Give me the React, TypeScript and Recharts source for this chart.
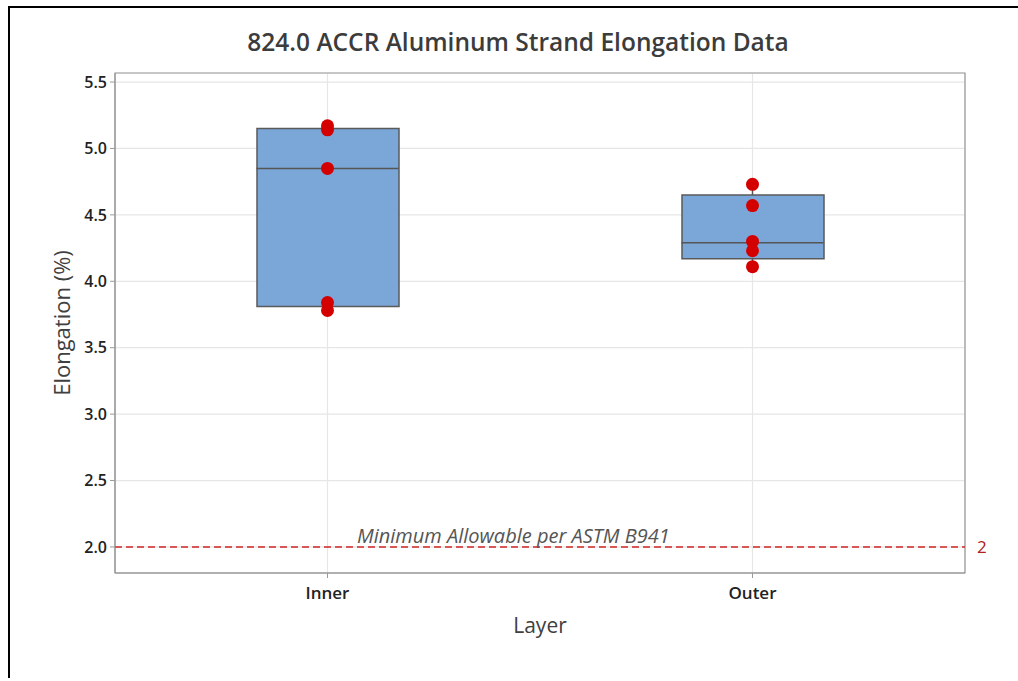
import {
  Bar,
  CartesianGrid,
  ComposedChart,
  ErrorBar,
  ReferenceArea,
  ReferenceLine,
  Scatter,
  XAxis,
  YAxis,
} from "recharts";

// Box-plot summary per layer
const layers = ["Inner", "Outer"];
const q1 = [3.81, 4.17];
const median = [4.85, 4.29];
const q3 = [5.15, 4.65];
const whiskerLow = [3.78, 4.11];
const whiskerHigh = [5.17, 4.73];

// individual strand measurements (red dots)
const innerValues = [5.17, 5.14, 4.85, 3.84, 3.78];
const outerValues = [4.73, 4.57, 4.3, 4.23, 4.11];

const yTicks = [2.0, 2.5, 3.0, 3.5, 4.0, 4.5, 5.0, 5.5];
const minAllowable = 2;

const FONT = "'Open Sans', 'Noto Sans', sans-serif";
const BOX_W = 142;

const boxData = layers.map((layer, i) => ({
  layer,
  box: [q1[i], q3[i]],
  median: median[i],
}));

// whiskers split in two so they never cross the box
const upperWhisker = layers.map((layer, i) => ({
  layer,
  value: q3[i],
  err: [0, whiskerHigh[i] - q3[i]],
}));
const lowerWhisker = layers.map((layer, i) => ({
  layer,
  value: q1[i],
  err: [q1[i] - whiskerLow[i], 0],
}));

const pointData = [
  ...innerValues.map((value) => ({ layer: "Inner", value })),
  ...outerValues.map((value) => ({ layer: "Outer", value })),
];

const MedianLine = (props: any) => {
  const { cx, cy } = props;
  return (
    <line
      x1={cx - BOX_W / 2}
      x2={cx + BOX_W / 2}
      y1={cy}
      y2={cy}
      stroke="#555"
      strokeWidth={1.5}
    />
  );
};

const NoShape = () => <g />;

const Dot = (props: any) => (
  <circle cx={props.cx} cy={props.cy} r={6.5} fill="#d40000" />
);

const MinLabel = (props: any) => {
  const vb = props.viewBox || {};
  return (
    <text
      x={vb.x + 242}
      y={vb.y - 4}
      fill="#555"
      fontStyle="italic"
      fontSize={20}
      fontFamily={FONT}
    >
      Minimum Allowable per ASTM B941
    </text>
  );
};

export default function App() {
  return (
    <div
      style={{
        position: "absolute",
        top: 6,
        left: 8,
        width: 1010,
        height: 670,
        borderTop: "2px solid #000",
        borderLeft: "2px solid #000",
        background: "#fff",
        fontFamily: FONT,
      }}
    >
      <div
        style={{
          position: "absolute",
          left: 4,
          top: 17,
          width: 1008,
          textAlign: "center",
          fontSize: 24.5,
          fontWeight: 600,
          color: "#3c3c3c",
        }}
      >
        824.0 ACCR Aluminum Strand Elongation Data
      </div>
      <ComposedChart
        width={1008}
        height={668}
        data={boxData}
        margin={{ top: 65, right: 53, bottom: 43, left: 0 }}
      >
        <CartesianGrid stroke="#e6e6e6" strokeWidth={1.2} />
        <XAxis
          dataKey="layer"
          type="category"
          allowDuplicatedCategory={false}
          height={60}
          stroke="#999"
          tickSize={5}
          tick={{ fill: "#222", fontSize: 17, fontWeight: 600, fontFamily: FONT }}
          tickMargin={9}
          label={{
            value: "Layer",
            position: "insideBottom",
            offset: 0,
            fill: "#404040",
            fontSize: 21,
            fontFamily: FONT,
          }}
        />
        <YAxis
          type="number"
          domain={[1.804, 5.568]}
          ticks={yTicks}
          allowDataOverflow
          width={105}
          stroke="#999"
          tickSize={5}
          tickMargin={3}
          tickFormatter={(v: number) => v.toFixed(1)}
          tick={{ fill: "#222", fontSize: 16, fontWeight: 600, fontFamily: FONT }}
          label={{
            value: "Elongation (%)",
            angle: -90,
            position: "insideLeft",
            offset: 52,
            style: { textAnchor: "middle" },
            fill: "#404040",
            fontSize: 22,
            fontFamily: FONT,
          }}
        />
        <ReferenceArea
          y1={1.804}
          y2={5.568}
          fill="none"
          stroke="#999"
          strokeWidth={1.2}
          ifOverflow="extendDomain"
        />
        <ReferenceLine
          y={minAllowable}
          stroke="#d02525"
          strokeWidth={1.5}
          strokeDasharray="7 4"
          label={MinLabel}
        />
        <ReferenceLine
          y={minAllowable}
          stroke="none"
          label={{
            value: String(minAllowable),
            position: "right",
            offset: 12,
            fill: "#b02020",
            fontSize: 17,
            fontFamily: FONT,
          }}
        />
        <Bar
          dataKey="box"
          barSize={BOX_W}
          fill="#7ba6d8"
          stroke="#5a5a5a"
          strokeWidth={1.5}
          isAnimationActive={false}
        />
        <Scatter
          data={upperWhisker}
          dataKey="value"
          shape={NoShape}
          isAnimationActive={false}
        >
          <ErrorBar dataKey="err" direction="y" width={0} stroke="#555" strokeWidth={1.5} />
        </Scatter>
        <Scatter
          data={lowerWhisker}
          dataKey="value"
          shape={NoShape}
          isAnimationActive={false}
        >
          <ErrorBar dataKey="err" direction="y" width={0} stroke="#555" strokeWidth={1.5} />
        </Scatter>
        <Scatter
          data={boxData}
          dataKey="median"
          shape={MedianLine}
          isAnimationActive={false}
        />
        <Scatter
          data={pointData}
          dataKey="value"
          shape={Dot}
          isAnimationActive={false}
        />
      </ComposedChart>
    </div>
  );
}
